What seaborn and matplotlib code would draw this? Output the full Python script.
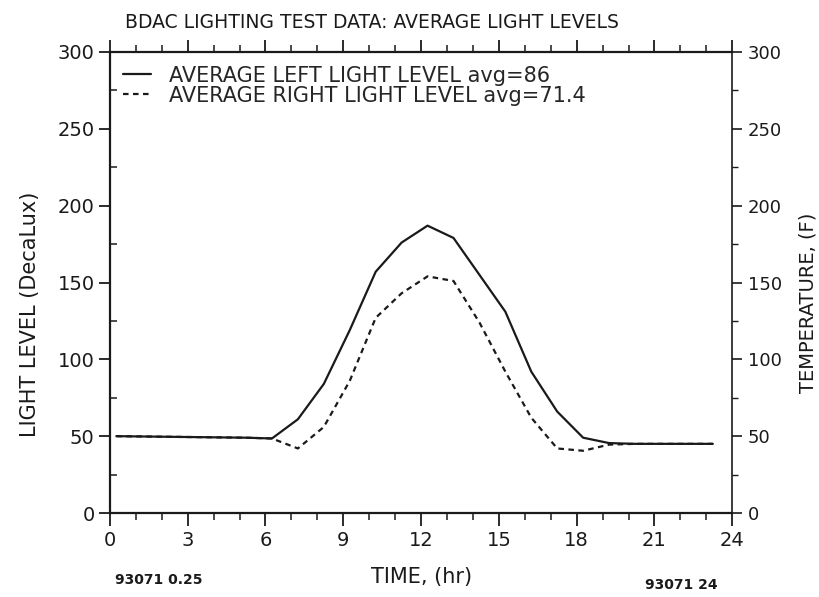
import numpy as np
import pandas as pd
import matplotlib
matplotlib.use("Agg")
import matplotlib.pyplot as plt
import seaborn as sns
from matplotlib.ticker import MultipleLocator

# ---- data ----
hours = [0.25, 1.25, 2.25, 3.25, 4.25, 5.25, 6.25, 7.25, 8.25, 9.25, 10.25, 11.25,
         12.25, 13.25, 14.25, 15.25, 16.25, 17.25, 18.25, 19.25, 20.25, 21.25, 22.25, 23.25]
left_level = [50, 49.8, 49.6, 49.4, 49.2, 49, 48.5, 61, 84, 119, 157, 176,
              187, 179, 155, 131, 92, 66, 49, 45.5, 45, 45, 45, 45]
right_level = [50, 49.8, 49.6, 49.4, 49.2, 49, 48.5, 42, 56, 86, 127, 143,
               154, 151, 124, 92, 62, 42, 40.5, 44.5, 45, 45, 45, 45]
series_names = ["AVERAGE LEFT LIGHT LEVEL avg=86", "AVERAGE RIGHT LIGHT LEVEL avg=71.4"]
x_ticks = [0, 3, 6, 9, 12, 15, 18, 21, 24]
y_ticks = [0, 50, 100, 150, 200, 250, 300]

df = pd.DataFrame({
    "hour": hours * 2,
    "level": left_level + right_level,
    "series": [series_names[0]] * len(hours) + [series_names[1]] * len(hours),
})

sns.set_style("ticks")
plt.rcParams["font.family"] = ["DejaVu Sans"]
ink = "#1a1a1a"

fig = plt.figure(figsize=(8.2, 5.97), dpi=100)
ax = fig.add_axes([0.134, 0.1407, 0.759, 0.7722])

sns.lineplot(data=df, x="hour", y="level", style="series", style_order=series_names,
             dashes={series_names[0]: "", series_names[1]: (2.5, 2)},
             color=ink, linewidth=1.6, ax=ax, legend=True)

ax.set_xlim(0, 24)
ax.set_ylim(0, 300)
ax.set_xticks(x_ticks)
ax.set_yticks(y_ticks)
ax.xaxis.set_minor_locator(MultipleLocator(1))
ax.yaxis.set_minor_locator(MultipleLocator(25))
for s in ["left", "bottom", "top"]:
    ax.spines[s].set_linewidth(1.6)
    ax.spines[s].set_color(ink)
ax.spines["right"].set_visible(False)
ax.tick_params(axis="x", which="major", direction="out", length=9, width=1.3,
               labelsize=14, colors=ink, top=True, pad=4)
ax.tick_params(axis="x", which="minor", direction="out", length=5, width=1.1, top=True, colors=ink)
ax.tick_params(axis="y", which="major", direction="out", length=8, width=1.3,
               labelsize=14, colors=ink, pad=3)
ax.tick_params(axis="y", which="minor", direction="in", length=5, width=1.1, colors=ink)
ax.set_xlabel("TIME, (hr)", fontsize=15, color=ink, labelpad=12)
ax.set_ylabel("LIGHT LEVEL (DecaLux)", fontsize=15, color=ink)
ax.yaxis.set_label_coords(-0.112, 0.43)

leg = ax.legend(loc="upper left", frameon=False, fontsize=15, handlelength=1.3,
                handletextpad=0.9, labelspacing=0.0, borderaxespad=0.25,
                bbox_to_anchor=(0.0, 1.0))
for line in leg.get_lines():
    line.set_color(ink)

ax2 = ax.twinx()
ax2.set_ylim(0, 300)
ax2.set_yticks(y_ticks)
ax2.yaxis.set_minor_locator(MultipleLocator(25))
for s in ["left", "bottom", "top"]:
    ax2.spines[s].set_visible(False)
ax2.spines["right"].set_linewidth(1.2)
ax2.spines["right"].set_color(ink)
ax2.tick_params(axis="y", which="major", direction="out", length=7, width=1.2,
                labelsize=13, colors=ink, pad=4)
ax2.tick_params(axis="y", which="minor", direction="out", length=4, width=1.0, colors=ink)
ax2.set_ylabel("TEMPERATURE, (F)", fontsize=14, color=ink)
ax2.yaxis.set_label_coords(1.107, 0.455)

fig.text(0.152, 0.962, "BDAC LIGHTING TEST DATA: AVERAGE LIGHT LEVELS",
         fontsize=13.5, color=ink, ha="left", va="center")
fig.text(0.14, 0.028, "93071 0.25", fontsize=10, fontweight="bold", color=ink,
         ha="left", va="center")
fig.text(0.787, 0.02, "93071 24", fontsize=10, fontweight="bold", color=ink,
         ha="left", va="center")

fig.savefig("out.png", dpi=100, facecolor="white")
